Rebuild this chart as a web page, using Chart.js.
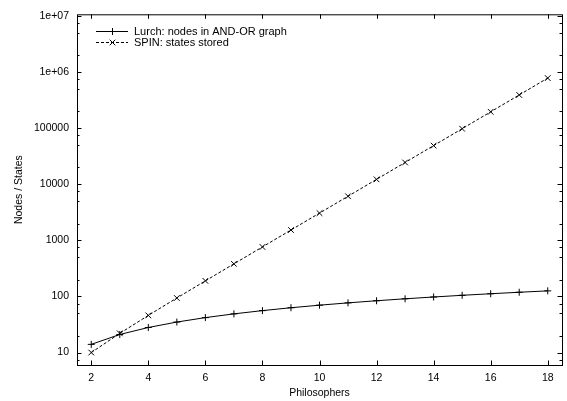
<!DOCTYPE html>
<html><head><meta charset="utf-8">
<script src="https://cdn.jsdelivr.net/npm/chart.js@4"></script>
<style>html,body{margin:0;padding:0;background:#fff}</style>
</head><body>
<canvas id="c" width="567" height="401"></canvas>
<script>
const philosophers = [2,3,4,5,6,7,8,9,10,11,12,13,14,15,16,17,18];
const lurchNodes = [14,21,28,35,42,49,56,63,70,77,84,91,98,105,112,119,126];
const spinStates = [10,22,46,94,190,382,766,1534,3070,6142,12286,24574,49150,98302,196606,393214,786430];
const xTickValues = [2,4,6,8,10,12,14,16,18];
const yTickValues = [10,100,1000,10000,100000,1000000,10000000];
const yTickLabels = ['10','100','1000','10000','100000','1e+06','1e+07'];
const yMinorFactors = [2,5,7.5];
const seriesNames = ['Lurch: nodes in AND-OR graph','SPIN: states stored'];
const xTitle = 'Philosophers';
const yTitle = 'Nodes / States';

const FONT = '"Liberation Sans", Arial, Helvetica, sans-serif';
Chart.defaults.font.family = FONT;
Chart.defaults.color = '#000';

function drawMarker(ctx, style, x, y, r){
  ctx.beginPath();
  if (style === 'cross') {
    ctx.moveTo(x - r, y); ctx.lineTo(x + r, y);
    ctx.moveTo(x, y - r); ctx.lineTo(x, y + r);
  } else {
    ctx.moveTo(x - r, y - r); ctx.lineTo(x + r, y + r);
    ctx.moveTo(x - r, y + r); ctx.lineTo(x + r, y - r);
  }
  ctx.stroke();
}

const frame = {
  id: 'frame',
  afterDatasetsDraw(chart){
    const {ctx, chartArea: a, scales} = chart;
    const xs = scales.x, ys = scales.y;
    ctx.save();
    ctx.strokeStyle = '#000';
    ctx.lineWidth = 1;
    ctx.setLineDash([]);
    ctx.strokeRect(a.left + 0.5, a.top + 0.5, a.right - a.left, a.bottom - a.top);
    ctx.beginPath();
    xTickValues.forEach(v => {
      const px = Math.round(xs.getPixelForValue(v)) + 0.5;
      ctx.moveTo(px, a.bottom); ctx.lineTo(px, a.bottom - 4.5);
      ctx.moveTo(px, a.top); ctx.lineTo(px, a.top + 4.5);
    });
    yTickValues.forEach(v => {
      const py = Math.round(ys.getPixelForValue(v)) + 0.5;
      ctx.moveTo(a.left, py); ctx.lineTo(a.left + 4.5, py);
      ctx.moveTo(a.right, py); ctx.lineTo(a.right - 4.5, py);
    });
    const minors = [];
    [1,10,100,1000,10000,100000,1000000].forEach(d => yMinorFactors.forEach(f => minors.push(d * f)));
    minors.forEach(v => {
      if (v < ys.min || v > ys.max) return;
      const py = Math.round(ys.getPixelForValue(v)) + 0.5;
      ctx.moveTo(a.left, py); ctx.lineTo(a.left + 2.5, py);
      ctx.moveTo(a.right, py); ctx.lineTo(a.right - 2.5, py);
    });
    ctx.stroke();

    // legend
    ctx.font = '11px ' + FONT;
    ctx.textAlign = 'left';
    ctx.textBaseline = 'middle';
    ctx.fillStyle = '#000';
    const rows = [31, 42];
    chart.data.datasets.forEach((ds, i) => {
      const y = rows[i] + 0.5;
      ctx.setLineDash(ds.borderDash || []);
      ctx.beginPath(); ctx.moveTo(96, y); ctx.lineTo(128, y); ctx.stroke();
      ctx.setLineDash([]);
      drawMarker(ctx, ds.pointStyle, 112.5, y, ds.pointStyle === 'cross' ? 3.5 : 2.8);
      ctx.fillText(ds.label, 134, rows[i] + 0.5);
    });

    // axis titles
    ctx.font = '10.5px ' + FONT;
    ctx.textAlign = 'center';
    ctx.fillText(xTitle, (a.left + a.right) / 2, 393);
    ctx.save();
    ctx.translate(19, (a.top + a.bottom) / 2);
    ctx.rotate(-Math.PI / 2);
    ctx.fillText(yTitle, 0, 0);
    ctx.restore();
    ctx.restore();
  }
};

new Chart(document.getElementById('c'), {
  type: 'line',
  data: {
    datasets: [
      {
        label: seriesNames[0],
        data: philosophers.map((x, i) => ({x, y: lurchNodes[i]})),
        borderColor: '#000', borderWidth: 1, backgroundColor: '#000',
        pointStyle: 'cross', pointRadius: 3.5, pointBorderWidth: 1,
        pointBorderColor: '#000', tension: 0, fill: false
      },
      {
        label: seriesNames[1],
        data: philosophers.map((x, i) => ({x, y: spinStates[i]})),
        borderColor: '#000', borderWidth: 1, backgroundColor: '#000',
        borderDash: [3, 2],
        pointStyle: 'crossRot', pointRadius: 4, pointBorderWidth: 1,
        pointBorderColor: '#000', tension: 0, fill: false
      }
    ]
  },
  options: {
    responsive: false,
    animation: false,
    devicePixelRatio: 1,
    layout: { padding: { left: 0, right: 4, top: 10, bottom: 0 } },
    plugins: { legend: { display: false }, tooltip: { enabled: false } },
    scales: {
      x: {
        type: 'linear', min: 1.5, max: 18.5,
        afterBuildTicks: s => { s.ticks = xTickValues.map(v => ({value: v})); },
        afterFit: s => { s.height = 36; },
        grid: { display: false, drawTicks: false },
        border: { display: false },
        ticks: { padding: 7, font: { size: 10.5 }, color: '#000', maxRotation: 0,
                 callback: v => String(v) }
      },
      y: {
        type: 'logarithmic', min: 6, max: 10800000,
        afterBuildTicks: s => { s.ticks = yTickValues.map(v => ({value: v, major: true})); },
        afterFit: s => { s.width = 77; },
        grid: { display: false, drawTicks: false },
        border: { display: false },
        ticks: { padding: 8, font: { size: 10.5 }, color: '#000',
                 callback: (v) => { const i = yTickValues.indexOf(v); return i >= 0 ? yTickLabels[i] : ''; } }
      }
    }
  },
  plugins: [frame]
});
</script>
</body></html>
